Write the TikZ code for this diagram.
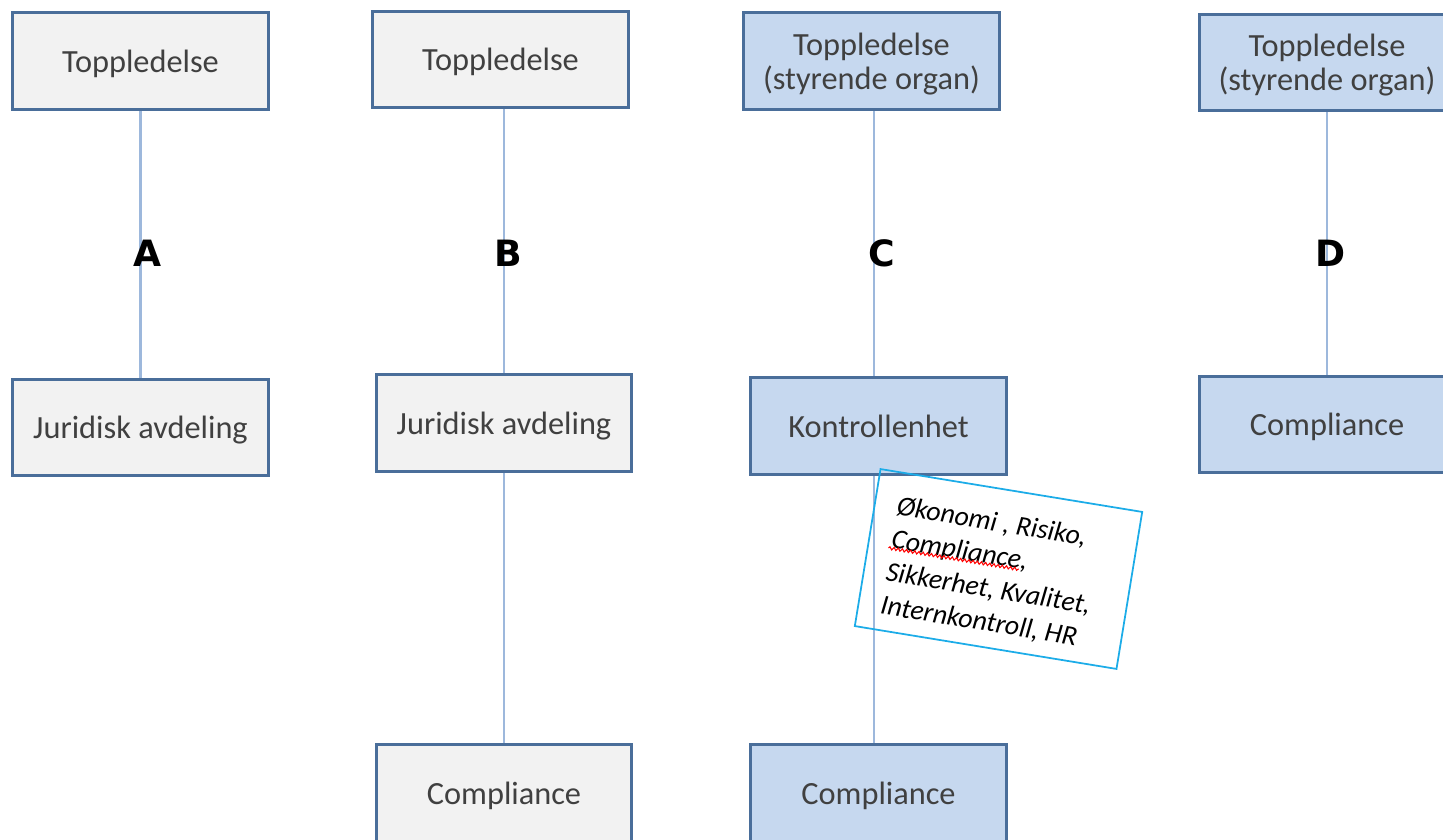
\documentclass[tikz,border=0pt]{standalone}
\usepackage{fontspec}
\setmainfont{Carlito}
\newfontfamily\letterfont{DejaVu Sans}
\usetikzlibrary{decorations.pathmorphing,backgrounds}

\definecolor{boxborder}{RGB}{74,110,154}
\definecolor{boxgray}{RGB}{242,242,242}
\definecolor{boxblue}{RGB}{198,216,239}
\definecolor{boxtext}{RGB}{64,64,64}
\definecolor{linkblue}{RGB}{157,184,220}
\definecolor{notecyan}{RGB}{28,172,232}

\newcommand\boxwd{2.55cm}
\newcommand\boxht{0.96cm}

\tikzset{
  graybox/.style={draw=boxborder,line width=0.85pt,fill=boxgray,minimum width=\boxwd,minimum height=\boxht,
    inner sep=0pt,align=center,text=boxtext,text depth=0pt,font=\fontsize{9.2}{9.6}\selectfont},
  bluebox/.style={graybox,fill=boxblue},
  link/.style={draw=linkblue,line width=0.6pt},
  colletter/.style={inner sep=0pt,font=\letterfont\bfseries\fontsize{10.3}{10}\selectfont},
  notebox/.style={draw=notecyan,line width=0.5pt,minimum width=2.65cm,minimum height=1.59cm},
  notetext/.style={inner sep=0pt,align=left,anchor=north west,font=\itshape\fontsize{7.9}{9.5}\selectfont},
  squiggle/.style={draw=red,line width=0.3pt,decorate,decoration={snake,segment length=1.2pt,amplitude=0.4pt}}
}

\begin{document}
\begin{tikzpicture}[x=0.01cm,y=-0.01cm]
  \useasboundingbox (0,0) rectangle (1443,840);
  \clip (0,0) rectangle (1443,840);

  \node[graybox] (topA) at (140.5,61) {Toppledelse};
  \node[graybox] (jurA) at (140.5,427.5) {Juridisk avdeling};

  \node[graybox] (topB) at (500.5,59.5) {Toppledelse};
  \node[graybox] (jurB) at (504,423) {Juridisk avdeling};
  \node[graybox] (comB) at (504,793) {Compliance};

  \node[bluebox] (topC) at (871.5,61) {Toppledelse\\(styrende organ)};
  \node[bluebox] (konC) at (878.5,426) {Kontrollenhet};
  \node[bluebox] (comC) at (878.5,793) {Compliance};

  \node[bluebox] (topD) at (1327,62.5) {Toppledelse\\(styrende organ)};
  \node[bluebox] (comD) at (1327,424.5) {Compliance};

  \begin{pgfonlayer}{background}
    \draw[link] (topA) -- (jurA);
    \draw[link] (jurB.north) -- (jurB.north |- topB.south);
    \draw[link] (jurB) -- (comB);
    \draw[link] ([xshift=0.025cm]topC.south) -- ([xshift=0.025cm]topC.south |- konC.north);
    \draw[link] ([xshift=0.025cm]konC.south -| topC.south) -- ([xshift=0.025cm]comC.north -| topC.south);
    \draw[link] (topD) -- (comD);
  \end{pgfonlayer}

  \node[colletter] (labA) at (148,253) {A};
  \node[colletter] (labB) at (508,253) {B};
  \node[colletter] (labC) at (882,253) {C};
  \node[colletter] (labD) at (1331,253) {D};

  \begin{scope}[shift={(998.5,569)},rotate=-9.3,transform shape]
    \node[notebox] (note) at (0,0) {};
    \node[notetext] (notetxt) at (-110.75,-57) {Økonomi , Risiko,\\Compliance,\\Sikkerhet, Kvalitet,\\Internkontroll, HR};
    \draw[squiggle] (-112,-3) -- (20,-3);
  \end{scope}
\end{tikzpicture}
\end{document}
